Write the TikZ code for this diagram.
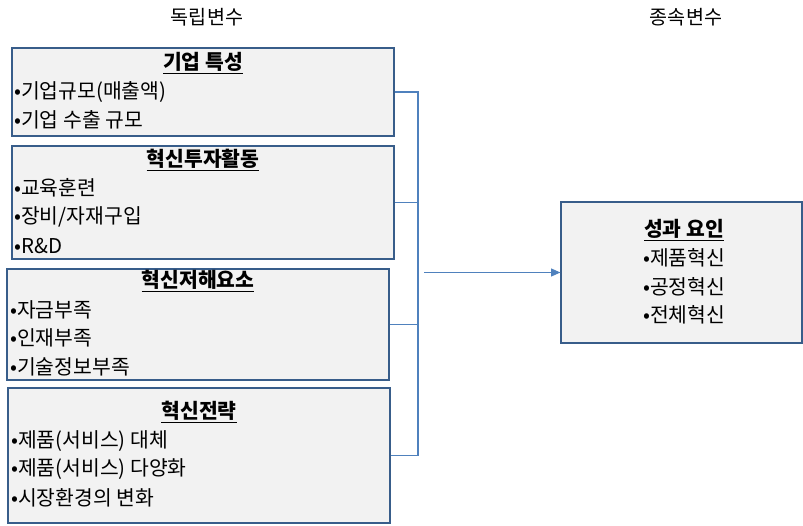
\documentclass[tikz,border=0pt]{standalone}
\usepackage{fontspec}
\setmainfont{Noto Sans CJK KR}
\usepackage{tikz}
\usetikzlibrary{arrows.meta, positioning, calc}
\definecolor{boxfill}{RGB}{242, 242, 242}
\definecolor{boxline}{RGB}{56, 93, 138}
\definecolor{linkblue}{RGB}{79, 129, 189}

\begin{document}
\begin{tikzpicture}[x=0.75pt, y=-0.75pt,
  box/.style={draw=boxline, line width=0.9pt, fill=boxfill, inner sep=0pt},
  head/.style={font=\fontsize{15.3}{18}\selectfont\bfseries, inner sep=0pt},
  item/.style={font=\fontsize{15.3}{18}\selectfont, anchor=west, inner sep=0pt},
  label/.style={font=\fontsize{14.7}{17}\selectfont, inner sep=0pt},
  link/.style={draw=linkblue, line width=0.8pt},
]
\useasboundingbox (0,0) rectangle (803,525);

% column labels
\node[label] (indep) at (207,17) {독립변수};
\node[label] (dep) at (686,17) {종속변수};

% independent variables
\node[box, minimum width=286.5pt, minimum height=66pt] (firm) at (203,92) {};
\node[head] (firmT) at (203,63) {\underline{기업 특성}};
\node[item] (firm1) at (14,92) {•기업규모(매출액)};
\node[item] (firm2) at (14,120) {•기업 수출 규모};

\node[box, minimum width=286.5pt, minimum height=84.75pt] (invest) at (203,202.5) {};
\node[head] (investT) at (203,160) {\underline{혁신투자활동}};
\node[item] (invest1) at (14,188) {•교육훈련};
\node[item] (invest2) at (14,217) {•장비/자재구입};
\node[item] (invest3) at (14,246) {•R\&D};

\node[box, minimum width=286.5pt, minimum height=83.25pt] (barrier) at (198,324.5) {};
\node[head] (barrierT) at (198,281) {\underline{혁신저해요소}};
\node[item] (barrier1) at (10,310) {•자금부족};
\node[item] (barrier2) at (10,338) {•인재부족};
\node[item] (barrier3) at (10,367) {•기술정보부족};

\node[box, minimum width=286.5pt, minimum height=101.25pt] (strat) at (199,455.5) {};
\node[head] (stratT) at (199,412) {\underline{혁신전략}};
\node[item] (strat1) at (11,441) {•제품(서비스) 대체};
\node[item] (strat2) at (11,469) {•제품(서비스) 다양화};
\node[item] (strat3) at (11,498) {•시장환경의 변화};

% dependent variable
\node[box, minimum width=180.75pt, minimum height=105.75pt] (perf) at (681.5,272.5) {};
\node[head] (perfT) at (684,230) {\underline{성과 요인}};
\node[item] (perf1) at (643,258) {•제품혁신};
\node[item] (perf2) at (643,287) {•공정혁신};
\node[item] (perf3) at (643,315) {•전체혁신};

% connectors
\coordinate (bus) at (418,0);
\coordinate (start) at (424,0);
\draw[link] (firm.east) -- (firm.east -| bus) -- (strat.east -| bus) -- (strat.east);
\draw[link] (invest.east) -- (invest.east -| bus);
\draw[link] (barrier.east) -- (barrier.east -| bus);
\draw[link, -{Triangle[length=7pt, width=6pt]}] (perf.west -| start) -- (perf.west);
\end{tikzpicture}
\end{document}
